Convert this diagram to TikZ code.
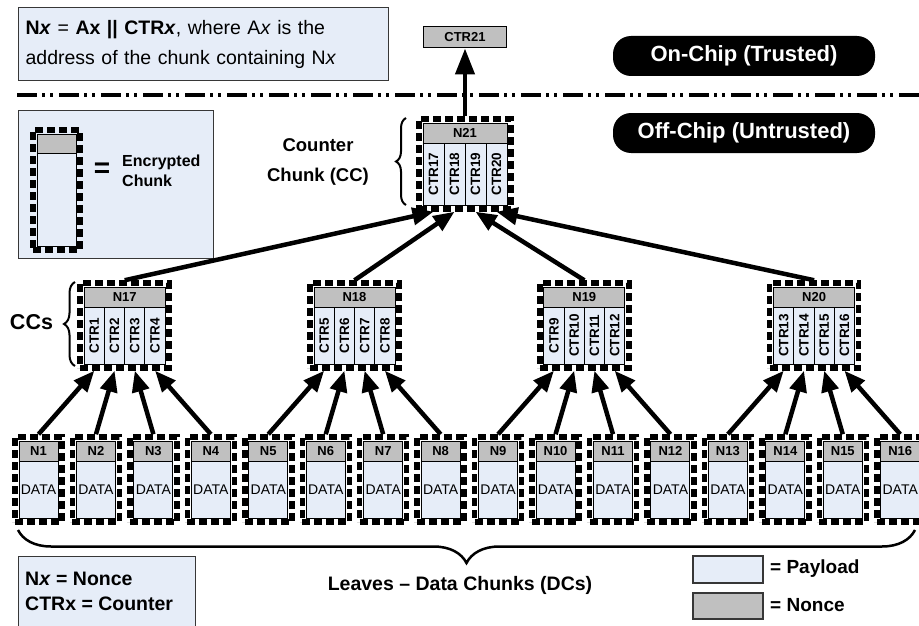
\documentclass[tikz,border=0pt]{standalone}
\usepackage{fontspec}
\setmainfont{Liberation Sans}
\usepackage{graphicx}
\usetikzlibrary{arrows.meta,fit,decorations.pathreplacing,calc}
\definecolor{payloadc}{RGB}{230,237,248}
\definecolor{noncec}{RGB}{192,192,192}
\definecolor{boxline}{RGB}{55,55,55}
\begin{document}
\begin{tikzpicture}[x=1pt,y=-1pt,
  payload/.style={draw=black, line width=1pt, fill=payloadc, inner sep=0pt},
  noncebox/.style={draw=black, line width=1pt, fill=noncec, inner sep=0pt, font=\fontsize{13}{13}\selectfont\bfseries},
  colbox/.style={draw=black, line width=1pt, fill=payloadc, inner sep=0pt, font=\fontsize{13.5}{13.5}\selectfont\bfseries},
  chipframe/.style={draw=black, line width=5.5pt, dash pattern=on 8pt off 4pt, inner sep=3.5pt},
  lbox/.style={draw=boxline, line width=1.2pt, fill=payloadc, inner sep=0pt},
  badge/.style={fill=black, rounded corners=18pt, text=white, font=\fontsize{22}{22}\selectfont\bfseries, minimum width=262pt, minimum height=40pt, inner sep=0pt},
  arr/.style={line width=4.5pt, -{Triangle[length=21pt,width=17pt]}},
  bigarr/.style={line width=4.5pt, -{Triangle[length=26pt,width=19pt]}},
  bracestyle/.style={decorate, line width=2pt},
  divider/.style={line width=4pt, dash pattern=on 20pt off 5pt on 3pt off 5pt on 3pt off 6pt}
]
\fill[white] (0,0) rectangle (919,626);
\useasboundingbox (0,0) rectangle (919,626);

% top-left definition box
\node[lbox, anchor=north west, minimum width=370pt, minimum height=73pt, text width=356pt, align=left, inner xsep=7pt, font=\fontsize{19.5}{30}\selectfont] (defbox) at (18,7)
  {\textbf{N\textit{x}} = \textbf{Ax || CTR\textit{x}}, where A\textit{x} is the\\address of the chunk containing N\textit{x}};

% encrypted chunk legend
\node[lbox, anchor=north west, minimum width=195pt, minimum height=148pt] (encbox) at (18,110) {};
\node[payload, minimum width=39pt, minimum height=112pt] (E) at (56.5,190) {};
\node[noncebox, minimum width=39pt, minimum height=19pt, anchor=north] (En) at (E.north) {};
\node[chipframe, fit=(E)] (Ef) {};
\node[font=\fontsize{28}{28}\selectfont\bfseries, inner sep=0pt] (eq) at (102,170) {=};
\node[anchor=west, align=left, font=\fontsize{16}{20.5}\selectfont\bfseries, inner sep=0pt] (enctext) at (122,171) {Encrypted\\Chunk};

% divider
\coordinate (dl) at (17,95);
\coordinate (dr) at (919,95);
\draw[divider] (dl) -- (dr);

% badges
\node[badge] (on) at (744,56) {On-Chip (Trusted)};
\node[badge] (off) at (744,133) {Off-Chip (Untrusted)};

% leaves
\foreach \i in {1,...,16}{
  \pgfmathsetmacro\cx{38.5+57.45*(\i-1)}
  \node[payload, minimum width=39pt, minimum height=77pt] (L\i) at (\cx,479.5) {};
  \node[noncebox, minimum width=39pt, minimum height=20pt, anchor=north] (Ln\i) at (L\i.north) {N\i};
  \node[font=\fontsize{14}{14}\selectfont, inner sep=0pt] (Ld\i) at (\cx,490) {DATA};
  \node[chipframe, fit=(L\i)] (Lf\i) {};
}

% counter chunks
\foreach \j/\cx [count=\k from 0] in {17/124.7,18/354.5,19/584.3,20/814.1}{
  \node[payload, minimum width=81pt, minimum height=77pt] (C\j) at (\cx,325.5) {};
  \node[noncebox, minimum width=81pt, minimum height=20pt, anchor=north] (Cn\j) at (C\j.north) {N\j};
  \foreach \c in {1,...,4}{
    \pgfmathtruncatemacro\ctr{4*\k+\c}
    \pgfmathsetmacro\colx{\cx-40.5+20.25*(\c-0.5)}
    \node[colbox, minimum width=20.25pt, minimum height=57pt] (C\j-\c) at (\colx,335.5) {\rotatebox{90}{CTR\ctr}};
  }
  \node[chipframe, fit=(C\j)] (Cf\j) {};
}

% root
\node[payload, minimum width=84pt, minimum height=82pt] (R) at (465,164) {};
\node[noncebox, minimum width=84pt, minimum height=20pt, anchor=north] (Rn) at (R.north) {N21};
\foreach \c in {1,...,4}{
  \pgfmathtruncatemacro\ctr{16+\c}
  \pgfmathsetmacro\colx{465-42+21*(\c-0.5)}
  \node[colbox, minimum width=21pt, minimum height=62pt] (R-\c) at (\colx,174) {\rotatebox{90}{CTR\ctr}};
}
\node[chipframe, fit=(R)] (Rf) {};
\node[noncebox, minimum width=83pt, minimum height=21pt] (top) at (465,37.5) {CTR21};

% arrows
\foreach \i in {1,...,16}{
  \pgfmathtruncatemacro\p{16+ceil(\i/4)}
  \pgfmathtruncatemacro\c{mod(\i-1,4)+1}
  \draw[arr] (Lf\i.north) -- (C\p-\c |- Cf\p.south);
}
\foreach \j [count=\c] in {17,...,20}{
  \draw[arr] (Cf\j.north) -- (R-\c |- Rf.south);
}
\draw[bigarr] (Rf.north) -- (top.south);

% braces and labels
\coordinate (cb1) at (406,205);
\coordinate (cb2) at (406,118);
\draw[bracestyle, decoration={brace, amplitude=10pt}] (cb1) -- (cb2);
\node[align=center, font=\fontsize{18.5}{30}\selectfont\bfseries] (cclabel) at (318,162) {Counter\\Chunk (CC)};

\coordinate (sb1) at (75,366);
\coordinate (sb2) at (75,282);
\draw[bracestyle, decoration={brace, amplitude=11pt}] (sb1) -- (sb2);
\node[font=\fontsize{21.5}{21.5}\selectfont\bfseries, inner sep=0pt] (ccs) at (31.5,322) {CCs};

\coordinate (bb1) at (915,530);
\coordinate (bb2) at (18,530);
\draw[bracestyle, line width=2.5pt, decoration={brace, amplitude=33pt}] (bb1) -- (bb2);
\node[font=\fontsize{19.5}{19.5}\selectfont\bfseries, inner sep=0pt] (leaves) at (460,585) {Leaves -- Data Chunks (DCs)};

% bottom-left legend
\node[lbox, anchor=north west, minimum width=177pt, minimum height=90pt] (nbox) at (18,556) {};
\node[anchor=west, align=left, font=\fontsize{19.5}{25}\selectfont\bfseries, inner sep=0pt] (ntext) at (25,591.5) {N\textit{x} = Nonce\\CTRx = Counter};

% payload / nonce legend
\node[payload, line width=1.5pt, draw=boxline, minimum width=70pt, minimum height=27pt] (plbox) at (728,569.5) {};
\node[anchor=west, font=\fontsize{19}{19}\selectfont\bfseries, inner sep=0pt] (pltext) at (770,569) {= Payload};
\node[noncebox, line width=1.5pt, draw=boxline, minimum width=70pt, minimum height=26pt] (nlbox) at (728,606) {};
\node[anchor=west, font=\fontsize{19}{19}\selectfont\bfseries, inner sep=0pt] (nltext) at (770,605) {= Nonce};
\end{tikzpicture}
\end{document}
